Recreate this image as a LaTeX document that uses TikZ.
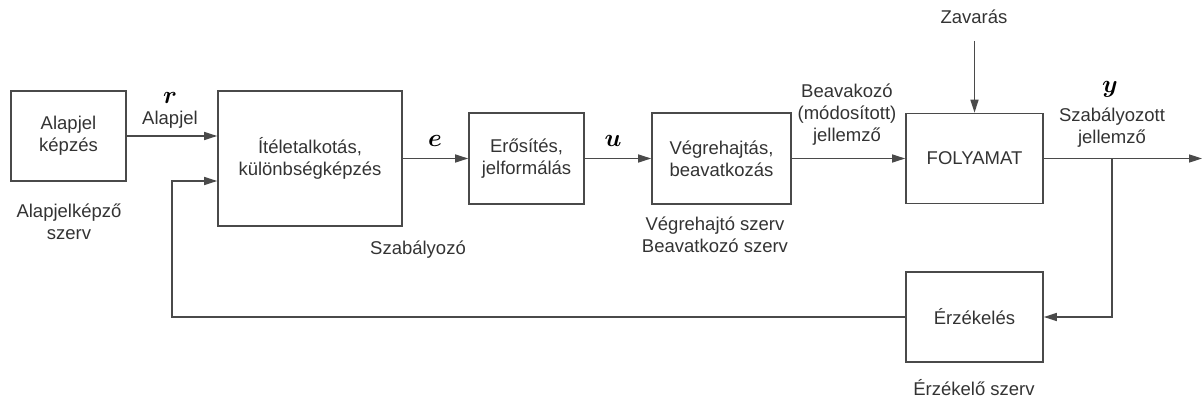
\documentclass[tikz,border=0pt]{standalone}
\usepackage{fontspec}
\setmainfont{Liberation Sans}
\usetikzlibrary{positioning}
\usetikzlibrary{arrows.meta}
\definecolor{linegray}{HTML}{4a4a4a}
\definecolor{textgray}{HTML}{333333}
\tikzset {
  x=1pt, y=-1pt,
  % block of the loop
  block/.style = {draw=linegray, line width=1.6pt, align=center, text=textgray,
    font=\fontsize{18.5}{22}\selectfont},
  % plain labels
  label/.style = {align=center, text=textgray, font=\fontsize{18.5}{22}\selectfont},
  % signal names
  signal/.style = {text=black, font=\fontsize{27}{27}\selectfont\boldmath},
  % signal lines
  line/.style = {draw=linegray, line width=1.6pt},
  arr/.style = {line, -{Triangle[length=13pt,width=8pt]}},
}

\begin{document}
\begin{tikzpicture}
        \useasboundingbox (0,0) rectangle (1203,401);

        \node[block, minimum width=115pt, minimum height=90pt] (alap) at (68.5,136) {Alapjel\\képzés};
        \node[block, minimum width=184pt, minimum height=135pt] (itelet) at (310,158.5) {Ítéletalkotás,\\különbségképzés};
        \node[block, minimum width=115pt, minimum height=91pt] (erosit) at (526.5,158.5) {Erősítés,\\jelformálás};
        \node[block, minimum width=139pt, minimum height=91pt] (vegre) at (721.5,158.5) {Végrehajtás,\\beavatkozás};
        \node[block, minimum width=137pt, minimum height=90pt] (foly) at (974.5,158.5) {FOLYAMAT};
        \node[block, minimum width=137pt, minimum height=90pt] (erz) at (974.5,317) {Érzékelés};

        \coordinate (zavar in) at (974.5,41);
        \coordinate (branch) at (1112,158.5);
        \coordinate (out) at (1202,158.5);
        \coordinate (back) at (172,317);

        % texts
        \node[label] (zavar) at (974,17) {Zavarás};
        \node[label] (alapjel) at (170,120) {Alapjel};
        \node[label] (alapszerv) at (69,222) {Alapjelképző\\szerv};
        \node[label] (szab) at (418,250) {Szabályozó};
        \node[label] (vegszerv) at (715,235) {Végrehajtó szerv\\Beavatkozó szerv};
        \node[label] (modosit) at (847,115) {Beavakozó\\(módosított)\\jellemző};
        \node[label] (szabjell) at (1112,128) {Szabályozott\\jellemző};
        \node[label] (erzszerv) at (974,388) {Érzékelő szerv};

        \node[signal] (r) at (170,98) {$r$};
        \node[signal] (e) at (435,141) {$e$};
        \node[signal] (u) at (613,141) {$u$};
        \node[signal] (y) at (1110,89) {$y$};

        \draw [arr] (alap.east) -- (alap.east -| itelet.west);
        \draw [arr] (itelet) -- (erosit);
        \draw [arr] (erosit) -- (vegre);
        \draw [arr] (vegre) -- (foly);
        \draw [arr] (foly) -- (out);
        \draw [arr] (zavar in) -- (foly.north);
        \draw [arr] (branch) |- (erz.east);
        \draw [arr] (erz.west) -- (back) -- (back |- 0,181) -- (itelet.west |- 0,181);
      \end{tikzpicture}
\end{document}
